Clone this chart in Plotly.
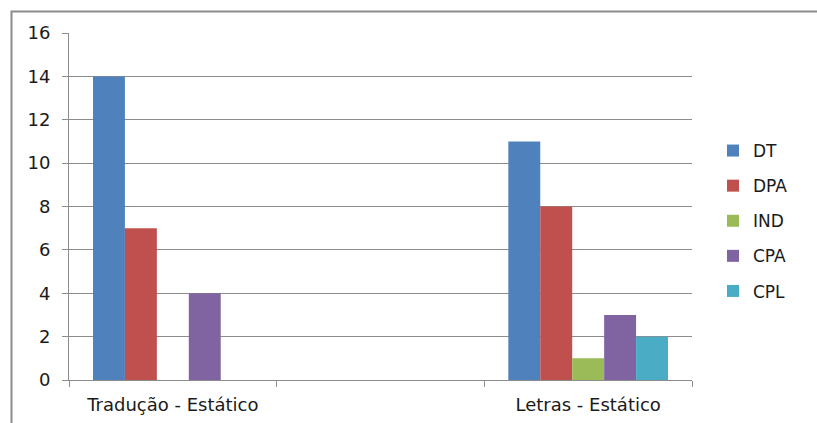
import plotly.graph_objects as go

categories = ["Tradução - Estático", " ", "Letras - Estático"]
series_names = ["DT", "DPA", "IND", "CPA", "CPL"]
dt = [14, None, 11]
dpa = [7, None, 8]
ind = [0, None, 1]
cpa = [4, None, 3]
cpl = [0, None, 2]
colors = ["#4F81BD", "#C0504D", "#9BBB59", "#8064A2", "#4BACC6"]
y_ticks = [0, 2, 4, 6, 8, 10, 12, 14, 16]

fig = go.Figure()
for name, vals, col in zip(series_names, [dt, dpa, ind, cpa, cpl], colors):
    fig.add_trace(go.Bar(x=categories, y=vals, name=name, marker_color=col,
                         marker_line_width=0, legendgroup=name))

W, H = 817, 423
l, r, t, b = 69, 125, 33, 43
pw, ph = W - l - r, H - t - b

def px_x(x):
    return (x - l) / pw

def px_y(y):
    return (H - b - y) / ph

fig.add_shape(type="rect", xref="paper", yref="paper",
              x0=px_x(11.5), x1=px_x(830), y0=px_y(11.5), y1=px_y(440),
              line=dict(color="#8c8c8c", width=2), layer="below")

FONT = "DejaVu Sans"
fig.update_layout(
    width=W, height=H,
    margin=dict(l=l, r=r, t=t, b=b, autoexpand=False),
    paper_bgcolor="white", plot_bgcolor="white",
    barmode="group", bargap=0.231, bargroupgap=0,
    font=dict(family=FONT, size=18, color="#1a1a1a"),
    showlegend=True,
    legend=dict(x=px_x(713), y=px_y(133), xanchor="left", yanchor="top",
                traceorder="grouped", tracegroupgap=10,
                font=dict(size=17), bgcolor="rgba(0,0,0,0)"),
    xaxis=dict(type="category", showgrid=False, showline=True, linecolor="#8c8c8c",
               linewidth=1, ticks="outside", tickson="boundaries", ticklen=6,
               tickcolor="#8c8c8c", tickfont=dict(size=18), ticklabelstandoff=8,
               automargin=False, fixedrange=True),
    yaxis=dict(range=[0, 16], tickvals=y_ticks, showgrid=True, gridcolor="#8c8c8c",
               gridwidth=1, showline=True, linecolor="#8c8c8c", linewidth=1,
               ticks="outside", ticklen=6, tickcolor="#8c8c8c", zeroline=False,
               tickfont=dict(size=18), ticklabelstandoff=8, automargin=False,
               fixedrange=True),
)

fig.write_html("out.html")
